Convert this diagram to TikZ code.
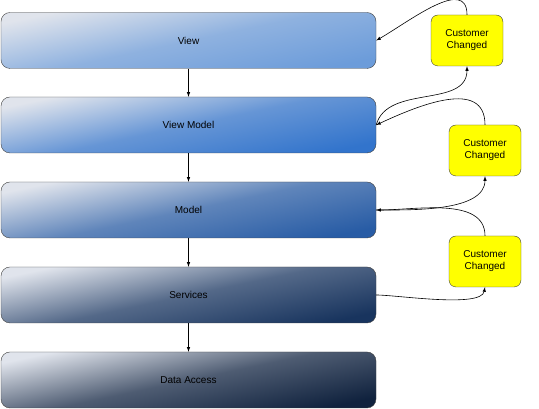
\documentclass[tikz,border=0pt]{standalone}
\usepackage{fontspec}
\setmainfont{Liberation Sans}
\usepackage{tikz}
\usetikzlibrary{arrows, shapes.geometric}
\definecolor{lightcolor}{RGB}{224, 228, 236}
\definecolor{viewcolor}{RGB}{108, 156, 218}
\definecolor{vmcolor}{RGB}{50, 116, 204}
\definecolor{modelcolor}{RGB}{40, 92, 165}
\definecolor{servicecolor}{RGB}{24, 52, 94}
\definecolor{datacolor}{RGB}{16, 34, 62}
\definecolor{eventcolor}{RGB}{255, 255, 0}
\definecolor{bordercolor}{RGB}{64, 64, 64}
\tikzstyle{layer} = [rectangle, rounded corners=9pt, minimum width=375pt, minimum height=56pt, text centered, draw=bordercolor, top color=lightcolor, bottom color=#1, middle color=#1!70!lightcolor, shading angle=12]
\tikzstyle{event} = [rectangle, rounded corners=7pt, minimum width=72pt, minimum height=51pt, text width=62pt, align=center, draw=bordercolor, fill=eventcolor]
\tikzstyle{arrow} = [->, >=latex, line width=0.6pt]

\begin{document}
\begin{tikzpicture}[x=1pt, y=1pt, every node/.style={font=\fontsize{10}{12}\selectfont}]
\useasboundingbox (0,0) rectangle (539,409);

% Couches
\node (view) [layer=viewcolor] at (188.5,368.5) {View};
\node (viewmodel) [layer=vmcolor] at (188.5,284) {View Model};
\node (model) [layer=modelcolor] at (188.5,199) {Model};
\node (services) [layer=servicecolor] at (188.5,114) {Services};
\node (data) [layer=datacolor] at (188.5,29) {Data Access};

% Evenements
\node (changed1) [event] at (467,368.5) {Customer\\Changed};
\node (changed2) [event] at (485,258.5) {Customer\\Changed};
\node (changed3) [event] at (485,147.5) {Customer\\Changed};

% Fleches
\draw [arrow] (view) -- (viewmodel);
\draw [arrow] (viewmodel) -- (model);
\draw [arrow] (model) -- (services);
\draw [arrow] (services) -- (data);

\draw [arrow] (changed1.north) to[out=90, in=30, looseness=1.05] (view.east);
\draw [arrow] (viewmodel.east) to[out=75, in=-90] (changed1.south);
\draw [arrow] (changed2.north) to[out=90, in=25, looseness=1.1] (viewmodel.east);
\draw [arrow] (model.east) to[out=0, in=-90, looseness=0.8] (changed2.south);
\draw [arrow] (changed3.north) to[out=90, in=0, looseness=0.9] (model.east);
\draw [arrow] (services.east) to[out=0, in=-100, looseness=0.5] (changed3.south);

\end{tikzpicture}
\end{document}
